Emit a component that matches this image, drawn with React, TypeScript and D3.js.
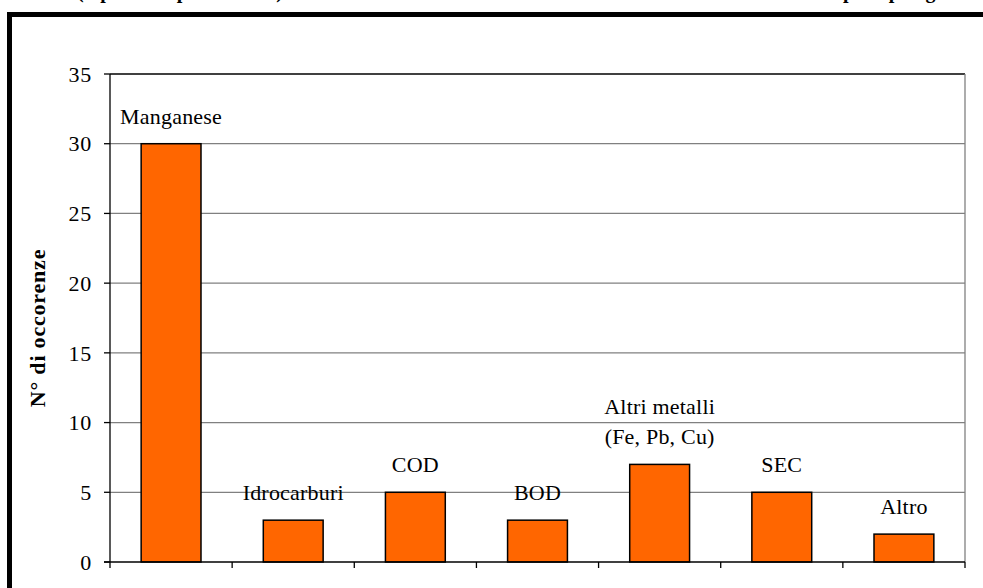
import React from "react";
import * as d3 from "d3";

const categories: string[] = ["Manganese", "Idrocarburi", "COD", "BOD", "Altri metalli\n(Fe, Pb, Cu)", "SEC", "Altro"];
const values: number[] = [30, 3, 5, 3, 7, 5, 2];
const yTicks: number[] = [0, 5, 10, 15, 20, 25, 30, 35];
const yTitle = "N° di occorenze";
const titleA = "(espressi in percentuale)";
const titleB = "per tipologia";

const W = 983;
const H = 588;
const M = { left: 110, right: 965, top: 74, bottom: 562 };
const FONT = "Liberation Serif";
const fs = { fontFamily: FONT };

export default function App() {
  const x = d3.scaleBand<number>().domain(d3.range(categories.length)).range([M.left, M.right]).paddingInner(0).paddingOuter(0);
  const y = d3.scaleLinear().domain([0, 35]).range([M.bottom, M.top]);
  const bw = x.bandwidth() * 0.49;
  const boundaries = d3.range(categories.length + 1).map((i) => M.left + i * x.bandwidth());

  return (
    <svg width={W} height={H} style={{ position: "absolute", left: 0, top: 0, background: "#fff", fontFamily: FONT }}>
      <rect x={0} y={0} width={W} height={H} fill="#fff" />
      {/* cut-off title */}
      <text y={-2} fontSize={20} fontWeight="bold" fill="#000" style={fs}>
        <tspan x={77}>{titleA}</tspan>
        <tspan x={843}>{titleB}</tspan>
      </text>
      {/* outer frame */}
      <rect x={9.5} y={14.5} width={W + 20} height={H + 20} fill="none" stroke="#000" strokeWidth={5} />

      {/* gridlines */}
      {yTicks.filter((t) => t > 0 && t < 35).map((t) => (
        <line key={t} x1={M.left} x2={M.right} y1={y(t)} y2={y(t)} stroke="#808080" strokeWidth={1.2} />
      ))}
      {/* plot border top and right */}
      <line x1={M.left} x2={M.right} y1={y(35)} y2={y(35)} stroke="#000" strokeWidth={1.3} />
      <line x1={M.right} x2={M.right} y1={M.top} y2={M.bottom} stroke="#808080" strokeWidth={1.3} />

      {/* bars */}
      {values.map((v, i) => {
        const cx = (x(i) as number) + x.bandwidth() / 2;
        return (
          <rect key={i} x={cx - bw / 2} y={y(v)} width={bw} height={y(0) - y(v)} fill="#FF6600" stroke="#000" strokeWidth={1.5} />
        );
      })}

      {/* bar labels */}
      {categories.map((c, i) => {
        const cx = (x(i) as number) + x.bandwidth() / 2;
        const lines = c.split("\n");
        const base = y(values[i]) - 20;
        return (
          <text key={i} x={cx} textAnchor="middle" fontSize={22} letterSpacing={0.2} fill="#000" style={fs}>
            {lines.map((l, j) => (
              <tspan key={j} x={cx} y={base - (lines.length - 1 - j) * 30}>{l}</tspan>
            ))}
          </text>
        );
      })}

      {/* y axis */}
      <line x1={M.left} x2={M.left} y1={M.top} y2={M.bottom} stroke="#000" strokeWidth={1.3} />
      {yTicks.map((t) => (
        <g key={t}>
          <line x1={M.left - 6} x2={M.left} y1={y(t)} y2={y(t)} stroke="#000" strokeWidth={1.3} />
          <text x={92} y={y(t)} dy="0.35em" textAnchor="end" fontSize={22} letterSpacing={0.8} fill="#000" style={fs}>{t}</text>
        </g>
      ))}
      {/* x axis */}
      <line x1={M.left - 6} x2={M.right} y1={M.bottom} y2={M.bottom} stroke="#000" strokeWidth={1.5} />
      {boundaries.map((b, i) => (
        <line key={i} x1={b} x2={b} y1={M.bottom} y2={M.bottom + 6} stroke="#000" strokeWidth={1.3} />
      ))}

      {/* y title */}
      <text transform={`translate(45, 328) rotate(-90)`} textAnchor="middle" fontSize={22} letterSpacing={0.8} fontWeight="bold" fill="#000" style={fs}>
        {yTitle}
      </text>
    </svg>
  );
}
